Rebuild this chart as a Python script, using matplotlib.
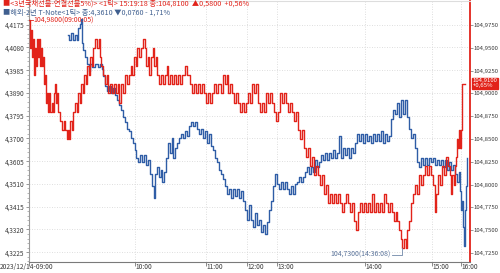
import matplotlib
matplotlib.use("Agg")
import matplotlib.pyplot as plt
import matplotlib.transforms as mtransforms
from matplotlib.ticker import FixedLocator, FuncFormatter, MultipleLocator

plt.rcParams['font.family'] = ['Noto Sans CJK KR', 'DejaVu Sans']

# x axis is a tick-index axis (the HTS chart is drawn per trade tick)
time_labels = ["2023/12/14-09:00", "10:00", "11:00", "12:00", "13:00", "14:00", "15:00", "16:00"]
time_pos = [0, 106, 177, 218, 248, 336, 403, 432]

# 3년국채선물 (right axis, red)
ktb_x = [0, 1, 2, 3, 4, 5, 6, 7, 8, 9, 10, 11, 12, 13, 14, 15, 16, 17, 18, 19, 20, 21, 23, 24, 25,
         26, 27, 28, 29, 31, 33, 35, 36, 38, 39, 40, 41, 43, 44, 46, 48, 49, 51, 52, 54, 55, 57, 58,
         60, 61, 63, 64, 66, 68, 70, 71, 72, 74, 76, 78, 79, 81, 83, 85, 87, 89, 90, 92, 94, 96, 98,
         100, 102, 103, 105, 107, 108, 110, 112, 114, 116, 117, 119, 120, 122, 124, 125, 127, 128,
         130, 132, 134, 136, 138, 139, 141, 143, 145, 147, 149, 151, 153, 156, 158, 161, 163, 165,
         167, 169, 171, 173, 175, 177, 179, 181, 183, 185, 187, 189, 192, 194, 196, 198, 199, 201,
         203, 205, 207, 209, 211, 213, 215, 217, 219, 221, 223, 225, 227, 229, 231, 233, 235, 237,
         239, 241, 243, 245, 247, 249, 251, 253, 255, 257, 259, 261, 263, 265, 267, 269, 271, 273,
         275, 277, 279, 281, 283, 285, 287, 289, 291, 293, 295, 297, 299, 301, 303, 305, 307, 309,
         311, 313, 315, 317, 319, 321, 323, 325, 327, 329, 331, 333, 335, 337, 339, 341, 343, 345,
         347, 349, 351, 353, 355, 357, 359, 361, 363, 365, 367, 368, 370, 372, 373, 375, 377, 378,
         380, 382, 384, 386, 388, 390, 392, 394, 396, 398, 400, 402, 404, 406, 407, 409, 411, 413,
         415, 417, 419, 421, 422, 423, 425, 426, 427, 428, 429, 430, 431, 432, 433, 436]
ktb_v = [104.98, 104.95, 104.97, 104.94, 104.96, 104.92, 104.95, 104.93, 104.96, 104.94, 104.96,
         104.93, 104.95, 104.93, 104.94, 104.91, 104.92, 104.89, 104.90, 104.88, 104.90, 104.88,
         104.89, 104.88, 104.90, 104.91, 104.89, 104.90, 104.88, 104.87, 104.86, 104.87, 104.86,
         104.85, 104.86, 104.85, 104.87, 104.86, 104.88, 104.89, 104.88, 104.90, 104.89, 104.91,
         104.90, 104.92, 104.91, 104.93, 104.92, 104.94, 104.93, 104.95, 104.96, 104.95, 104.96,
         104.94, 104.93, 104.92, 104.91, 104.92, 104.90, 104.91, 104.90, 104.91, 104.90, 104.91,
         104.89, 104.91, 104.90, 104.92, 104.91, 104.92, 104.93, 104.92, 104.94, 104.93, 104.95,
         104.94, 104.95, 104.96, 104.95, 104.93, 104.94, 104.92, 104.94, 104.95, 104.93, 104.94,
         104.92, 104.91, 104.92, 104.91, 104.92, 104.93, 104.91, 104.92, 104.91, 104.92, 104.91,
         104.92, 104.91, 104.92, 104.93, 104.92, 104.91, 104.90, 104.91, 104.90, 104.91, 104.90,
         104.91, 104.90, 104.89, 104.90, 104.89, 104.90, 104.91, 104.90, 104.91, 104.90, 104.92,
         104.91, 104.92, 104.90, 104.91, 104.90, 104.89, 104.90, 104.89, 104.88, 104.89, 104.88,
         104.89, 104.90, 104.89, 104.91, 104.90, 104.91, 104.89, 104.88, 104.89, 104.88, 104.90,
         104.89, 104.90, 104.89, 104.88, 104.87, 104.88, 104.90, 104.89, 104.90, 104.89, 104.88,
         104.89, 104.88, 104.87, 104.88, 104.86, 104.85, 104.86, 104.84, 104.83, 104.84, 104.82,
         104.83, 104.81, 104.82, 104.81, 104.80, 104.81, 104.79, 104.80, 104.78, 104.79, 104.78,
         104.79, 104.78, 104.79, 104.78, 104.77, 104.78, 104.79, 104.78, 104.77, 104.78, 104.76,
         104.75, 104.77, 104.78, 104.77, 104.78, 104.77, 104.78, 104.77, 104.79, 104.77, 104.78,
         104.77, 104.78, 104.77, 104.79, 104.78, 104.77, 104.78, 104.77, 104.76, 104.77, 104.76,
         104.75, 104.74, 104.73, 104.74, 104.73, 104.75, 104.76, 104.78, 104.79, 104.80, 104.79,
         104.81, 104.80, 104.81, 104.82, 104.81, 104.82, 104.81, 104.80, 104.77, 104.79, 104.81,
         104.80, 104.82, 104.81, 104.83, 104.82, 104.81, 104.79, 104.81, 104.80, 104.82, 104.83,
         104.85, 104.84, 104.86, 104.84, 104.86, 104.91, 104.91]

# 해외-2년 T-Note (left axis, blue)
tnote_x = [39, 40, 42, 44, 46, 48, 49, 51, 52, 53, 54, 56, 58, 60, 61, 63, 66, 69, 71, 73, 74, 76,
           78, 80, 82, 84, 86, 88, 90, 92, 94, 96, 98, 100, 102, 104, 106, 107, 109, 111, 113, 115,
           117, 119, 121, 123, 125, 126, 128, 130, 132, 133, 135, 137, 139, 141, 143, 144, 146, 148,
           150, 152, 154, 156, 158, 160, 162, 164, 166, 168, 170, 172, 174, 176, 178, 180, 182, 184,
           186, 188, 190, 192, 194, 196, 198, 200, 202, 204, 206, 208, 210, 212, 214, 216, 218, 220,
           222, 224, 226, 228, 230, 232, 234, 236, 238, 240, 242, 244, 246, 248, 250, 252, 254, 256,
           258, 260, 262, 264, 266, 268, 270, 272, 274, 276, 278, 280, 282, 284, 286, 288, 290, 292,
           294, 296, 298, 300, 302, 304, 306, 308, 310, 312, 314, 316, 318, 320, 322, 324, 326, 328,
           330, 332, 334, 336, 338, 340, 342, 344, 346, 348, 350, 352, 354, 356, 358, 360, 362, 364,
           366, 368, 370, 372, 374, 376, 378, 380, 382, 384, 386, 388, 390, 392, 394, 396, 398, 400,
           402, 404, 406, 408, 410, 412, 414, 416, 418, 420, 422, 424, 426, 428, 430, 431, 432, 433,
           434, 435, 436, 437, 438]
tnote_v = [4.413, 4.411, 4.414, 4.411, 4.413, 4.411, 4.416, 4.418, 4.420, 4.410, 4.407, 4.404,
           4.401, 4.398, 4.401, 4.400, 4.401, 4.400, 4.401, 4.399, 4.396, 4.392, 4.390, 4.392,
           4.389, 4.391, 4.388, 4.386, 4.384, 4.382, 4.379, 4.377, 4.374, 4.373, 4.370, 4.368,
           4.365, 4.362, 4.360, 4.363, 4.360, 4.363, 4.359, 4.361, 4.355, 4.350, 4.345, 4.355,
           4.358, 4.354, 4.357, 4.352, 4.356, 4.362, 4.368, 4.364, 4.370, 4.362, 4.366, 4.368,
           4.370, 4.372, 4.370, 4.373, 4.371, 4.375, 4.377, 4.375, 4.377, 4.374, 4.372, 4.374,
           4.370, 4.373, 4.368, 4.372, 4.367, 4.365, 4.362, 4.360, 4.357, 4.355, 4.353, 4.350,
           4.347, 4.349, 4.345, 4.349, 4.346, 4.349, 4.345, 4.348, 4.344, 4.340, 4.336, 4.342,
           4.336, 4.333, 4.339, 4.334, 4.336, 4.331, 4.334, 4.330, 4.335, 4.340, 4.344, 4.350,
           4.355, 4.351, 4.349, 4.352, 4.349, 4.352, 4.349, 4.347, 4.350, 4.347, 4.351, 4.352,
           4.354, 4.352, 4.354, 4.356, 4.358, 4.355, 4.358, 4.356, 4.361, 4.358, 4.360, 4.363,
           4.361, 4.364, 4.361, 4.364, 4.362, 4.365, 4.362, 4.364, 4.371, 4.362, 4.366, 4.363,
           4.366, 4.362, 4.366, 4.364, 4.368, 4.372, 4.369, 4.372, 4.368, 4.372, 4.369, 4.371,
           4.368, 4.372, 4.369, 4.372, 4.369, 4.373, 4.368, 4.372, 4.369, 4.371, 4.378, 4.382,
           4.380, 4.385, 4.379, 4.386, 4.380, 4.386, 4.379, 4.374, 4.370, 4.372, 4.366, 4.360,
           4.358, 4.362, 4.359, 4.362, 4.359, 4.362, 4.360, 4.362, 4.359, 4.361, 4.359, 4.361,
           4.358, 4.361, 4.357, 4.360, 4.357, 4.359, 4.355, 4.352, 4.356, 4.348, 4.340, 4.344,
           4.333, 4.325, 4.340, 4.350, 4.362]

left_ticks = [4.3225, 4.3320, 4.3415, 4.3510, 4.3605, 4.3700, 4.3795, 4.3890, 4.3985, 4.4080, 4.4175]
right_ticks = [104.7250, 104.7500, 104.7750, 104.8000, 104.8250, 104.8500, 104.8750, 104.9000,
               104.9250, 104.9500, 104.9750]

RED = "#e2231a"
BLUE = "#2f5da6"
GRID = "#d4d4d4"
TXT = "#3a3a3a"


def comma(v, pos=None):
    return f"{v:.4f}".replace(".", ",")


fig = plt.figure(figsize=(5.0, 2.73), dpi=100)
ax = fig.add_axes([29 / 500, 11 / 273, 441 / 500, 261 / 273])
ax2 = ax.twinx()

ax.set_xlim(0, 441)
ax.set_ylim(4.3184, 4.4274)
ax2.set_ylim(104.7151, 105.0013)

# grid
for p in time_pos[1:]:
    ax.axvline(p, color=GRID, lw=0.6, ls=(0, (1, 2)), zorder=0)
for t in left_ticks:
    ax.axhline(t, color=GRID, lw=0.6, ls=(0, (1, 2)), zorder=0)

ax.plot(tnote_x, tnote_v, drawstyle="steps-post", color=BLUE, lw=1.0, zorder=3)
ax2.plot(ktb_x, ktb_v, drawstyle="steps-post", color=RED, lw=1.0, zorder=3)

# spines
for s in ["top", "right", "left", "bottom"]:
    ax.spines[s].set_visible(False)
ax2.spines["top"].set_color("#dddddd")
ax2.spines["left"].set_color("#9a9a9a")
ax2.spines["left"].set_linewidth(0.8)
ax2.spines["bottom"].set_color("#7a7a7a")
ax2.spines["bottom"].set_linewidth(0.8)
ax2.spines["right"].set_color(RED)
ax2.spines["right"].set_linewidth(1.3)

# left axis ticks
ax.yaxis.set_major_locator(FixedLocator(left_ticks))
ax.yaxis.set_major_formatter(FuncFormatter(comma))
ax.yaxis.set_minor_locator(MultipleLocator(0.0019))
ax.tick_params(axis="y", which="major", direction="out", length=2.5, width=0.6,
               color="#888888", labelsize=4.6, labelcolor=TXT, pad=1)
ax.tick_params(axis="y", which="minor", direction="out", length=1.2, width=0.5, color="#999999")

# right axis ticks
ax2.yaxis.set_major_locator(FixedLocator(right_ticks))
ax2.yaxis.set_major_formatter(FuncFormatter(comma))
ax2.tick_params(axis="y", which="major", direction="out", length=2.0, width=0.6,
                color="#888888", labelsize=4.3, labelcolor=TXT, pad=0.6)

# x axis
ax.set_xticks(time_pos)
ax.set_xticklabels(time_labels)
ax.tick_params(axis="x", direction="out", length=3, width=0.6, color="#777777",
               labelsize=4.8, labelcolor=TXT, pad=-2.6)
for i, lab in enumerate(ax.get_xticklabels()):
    if i == 0:
        lab.set_ha("center")
        lab.set_transform(lab.get_transform() + mtransforms.ScaledTranslation(-2 / 100, 0, fig.dpi_scale_trans))
    else:
        lab.set_ha("left")

# header lines
fig.text(3 / 500, 1 - 4 / 273, "■<3년국채선물-연결선물5%)> <1틱> 15:19:18 종:104,8100  ▲0,5800  +0,56%",
         color=RED, fontsize=5.2, va="center", ha="left")
fig.text(3 / 500, 1 - 13 / 273, "■해외-2년 T-Note<1틱> 종:4,3610 ▼0,0760 - 1,71%",
         color="#3f5f8f", fontsize=5.2, va="center", ha="left")

# max / min annotations
ax2.plot([0, 4], [104.98, 104.98], color=RED, lw=0.6, zorder=4)
ax2.text(4.5, 104.98, "104,9800(09:00:05)", color=RED, fontsize=5.0, va="center", ha="left")
ax2.plot([363, 373, 373], [104.7228, 104.7228, 104.73], color="#7088a8", lw=0.6, zorder=4)
ax2.text(362, 104.7228, "104,7300(14:36:08)", color="#5a739a", fontsize=5.0, va="center", ha="right")

# current price box on right axis
ax2.text(1.006, 104.911, "104,9100\n+0,65%", transform=mtransforms.blended_transform_factory(ax2.transAxes, ax2.transData),
         color="white", fontsize=4.3, va="center", ha="left", linespacing=0.95, zorder=6,
         bbox=dict(boxstyle="square,pad=0.15", fc=RED, ec=RED), clip_on=False)

fig.savefig("out.png", dpi=100)
